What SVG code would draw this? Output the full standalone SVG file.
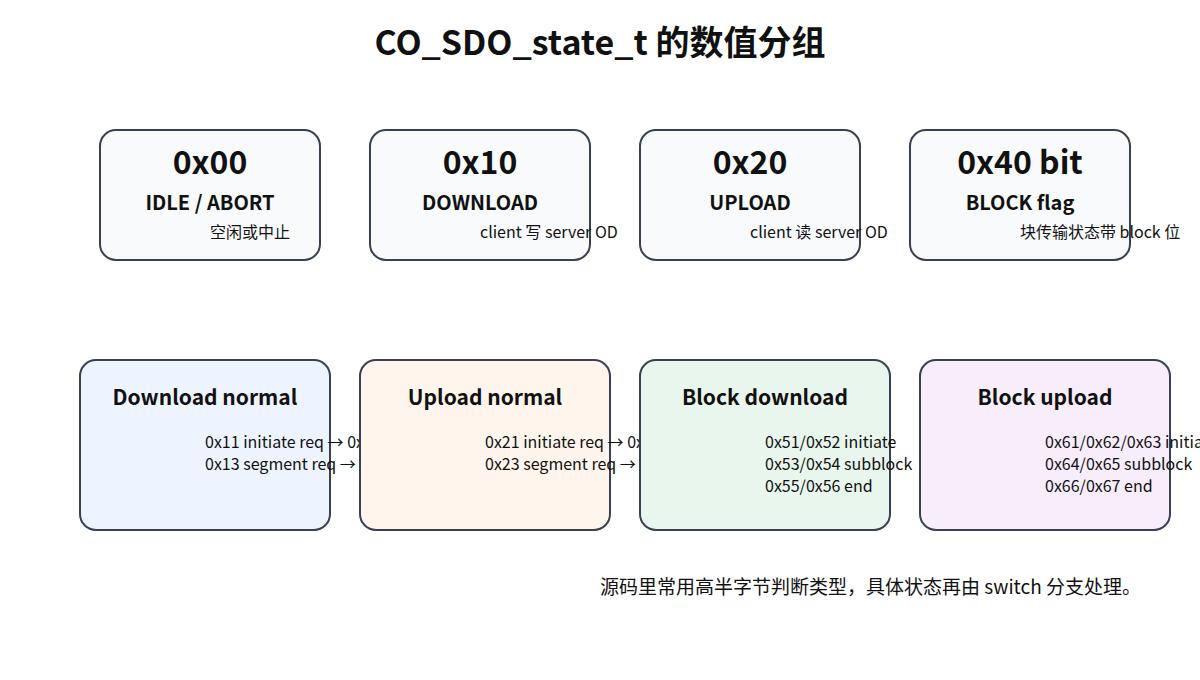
<svg xmlns="http://www.w3.org/2000/svg" width="1200" height="680" viewBox="0 0 1200 680">
<style>
text{font-family:"Noto Sans CJK SC","Noto Sans",sans-serif;fill:#111}
.box{stroke:#374151;stroke-width:2}
.t{fill:#f8fafc}
.v{font-size:32px;font-weight:bold;text-anchor:middle}
.n{font-size:20px;font-weight:bold;text-anchor:middle}
.d{font-size:16px}
.h{font-size:21px;font-weight:bold;text-anchor:middle}
</style>
<rect width="1200" height="680" fill="#fff"/>
<text x="600" y="55" font-size="34" font-weight="bold" text-anchor="middle">CO_SDO_state_t 的数值分组</text>
<g id="connectors"/>
<g id="n00"><rect class="box t" x="100" y="130" width="220" height="130" rx="16"/><text class="v" x="210" y="174">0x00</text><text class="n" x="210" y="210">IDLE / ABORT</text><text class="d" x="210" y="238">空闲或中止</text></g>
<g id="n10"><rect class="box t" x="370" y="130" width="220" height="130" rx="16"/><text class="v" x="480" y="174">0x10</text><text class="n" x="480" y="210">DOWNLOAD</text><text class="d" x="480" y="238">client 写 server OD</text></g>
<g id="n20"><rect class="box t" x="640" y="130" width="220" height="130" rx="16"/><text class="v" x="750" y="174">0x20</text><text class="n" x="750" y="210">UPLOAD</text><text class="d" x="750" y="238">client 读 server OD</text></g>
<g id="n40"><rect class="box t" x="910" y="130" width="220" height="130" rx="16"/><text class="v" x="1020" y="174">0x40 bit</text><text class="n" x="1020" y="210">BLOCK flag</text><text class="d" x="1020" y="238">块传输状态带 block 位</text></g>
<g id="dn"><rect class="box" fill="#eef4ff" x="80" y="360" width="250" height="170" rx="16"/><text class="h" x="205" y="405">Download normal</text><text class="d" x="205" y="448">0x11 initiate req → 0x12</text><text class="d" x="205" y="470">0x13 segment req → 0x14</text></g>
<g id="un"><rect class="box" fill="#fff5ec" x="360" y="360" width="250" height="170" rx="16"/><text class="h" x="485" y="405">Upload normal</text><text class="d" x="485" y="448">0x21 initiate req → 0x22</text><text class="d" x="485" y="470">0x23 segment req → 0x24</text></g>
<g id="bd"><rect class="box" fill="#e9f6ed" x="640" y="360" width="250" height="170" rx="16"/><text class="h" x="765" y="405">Block download</text><text class="d" x="765" y="448">0x51/0x52 initiate</text><text class="d" x="765" y="470">0x53/0x54 subblock</text><text class="d" x="765" y="492">0x55/0x56 end</text></g>
<g id="bu"><rect class="box" fill="#f7edfb" x="920" y="360" width="250" height="170" rx="16"/><text class="h" x="1045" y="405">Block upload</text><text class="d" x="1045" y="448">0x61/0x62/0x63 initiate</text><text class="d" x="1045" y="470">0x64/0x65 subblock</text><text class="d" x="1045" y="492">0x66/0x67 end</text></g>
<text x="600" y="594" font-size="19">源码里常用高半字节判断类型，具体状态再由 switch 分支处理。</text>
</svg>
